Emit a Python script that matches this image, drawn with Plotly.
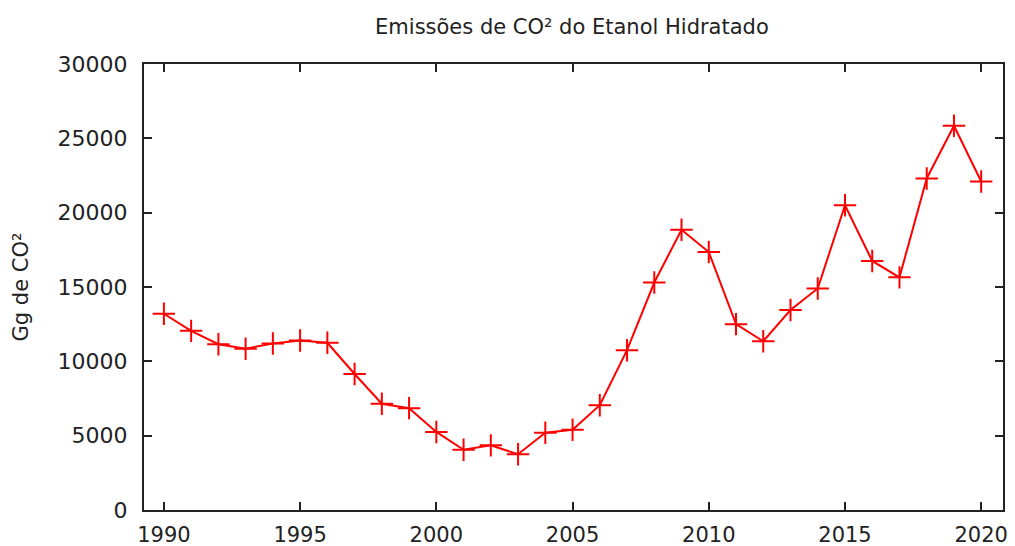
import plotly.graph_objects as go

years = list(range(1990, 2021))
emissions = [13200, 12050, 11150, 10850, 11200, 11400, 11250, 9150, 7150, 6850,
             5250, 4050, 4350, 3750, 5200, 5400, 7050, 10750, 15300, 18850,
             17350, 12500, 11350, 13450, 14900, 20500, 16750, 15650, 22300, 25850, 22100]

title_text = "Emissões de CO² do Etanol Hidratado"
y_title = "Gg de CO²"
x_ticks = [1990, 1995, 2000, 2005, 2010, 2015, 2020]
y_ticks = [0, 5000, 10000, 15000, 20000, 25000, 30000]
y_ticklabels = ["0", "5000", "10000", "15000", "20000", "25000", "30000"]

fig = go.Figure()
fig.add_trace(go.Scatter(
    x=years, y=emissions, mode="lines+markers",
    line=dict(color="#ff0000", width=2),
    marker=dict(symbol="cross-thin", size=16, line=dict(color="#ff0000", width=2)),
    showlegend=False,
))

# page body has an 8px default margin; figure sized to fill the rest of the window
font_family = "DejaVu Sans"
fig.update_layout(
    width=1007, height=538,
    margin=dict(l=136, r=12, t=56, b=36),
    paper_bgcolor="white", plot_bgcolor="white",
    font=dict(family=font_family, color="#222222", size=22),
    title=dict(text=title_text, x=0.560, xanchor="center", y=0.965, yanchor="middle",
               font=dict(size=21, family=font_family, color="#222222")),
)
fig.update_xaxes(
    range=[1989.27, 2020.8], tickvals=x_ticks, ticks="inside", ticklen=8, tickwidth=1.5,
    tickcolor="#222222", showline=True, linecolor="#222222", linewidth=2, mirror="ticks",
    showgrid=False, zeroline=False, tickfont=dict(size=21), automargin=False,
    ticklabelstandoff=5,
)
fig.update_yaxes(
    range=[0, 30000], tickvals=y_ticks, ticktext=y_ticklabels, ticks="inside", ticklen=8,
    tickwidth=1.5, tickcolor="#222222", showline=True, linecolor="#222222", linewidth=2,
    mirror="ticks", showgrid=False, zeroline=False, tickfont=dict(size=22), automargin=False,
    ticklabelstandoff=10,
    title=dict(text=y_title, font=dict(size=21), standoff=23),
)
fig.write_html("out.html")
